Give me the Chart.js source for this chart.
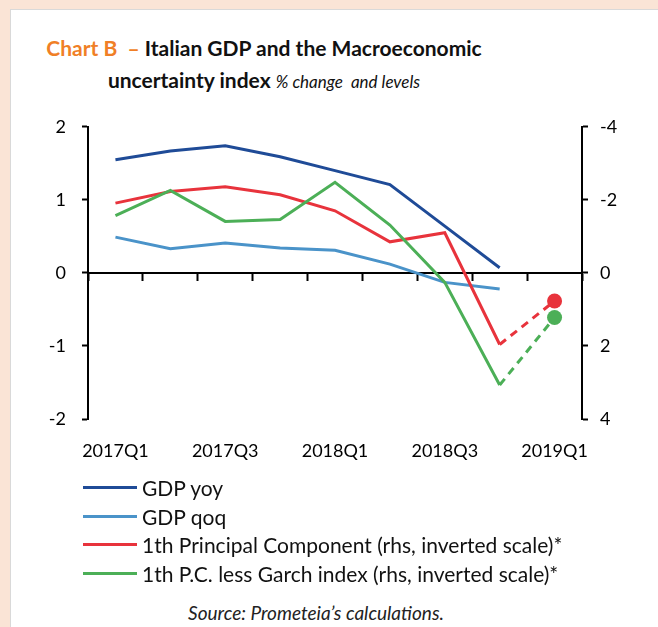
<!DOCTYPE html>
<html>
<head>
<meta charset="utf-8">
<script src="https://cdn.jsdelivr.net/npm/chart.js@4.4.1/dist/chart.umd.min.js"></script>
<style>
  body { margin: 0; width: 658px; height: 627px; overflow: hidden; background: #fae4d6; font-family: Lato, sans-serif; }
  #panel { position: absolute; left: 10px; top: 9px; width: 700px; height: 700px; background: #fff; border: 1px solid #d9d9d9; }
  #title { position: absolute; left: 4px; top: 32px; width: 520px; text-align: center; font-weight: bold; font-size: 21px; line-height: 32px; color: #111; }
  #title .tag { color: #f07f26; }
  #title .sub { font-weight: normal; font-style: italic; font-size: 17px; }
  #chart { position: absolute; left: 0; top: 100px; }
  #legend { position: absolute; left: 83px; top: 473px; }
  .row { height: 28.7px; display: flex; align-items: center; font-size: 21px; color: #111; }
  .swatch { width: 54px; height: 3px; margin-right: 5px; }
  #source { position: absolute; left: 0; top: 601px; width: 632px; text-align: center; font-style: italic; font-size: 19px; color: #222; }
</style>
</head>
<body>
<div id="panel"></div>
<div id="title"><span class="tag">Chart B&nbsp; – </span>Italian GDP and the Macroeconomic<br>uncertainty index <span class="sub">% change&nbsp; and levels</span></div>
<canvas id="chart" width="658" height="380"></canvas>
<div id="legend"></div>
<div id="source">Source: Prometeia’s calculations.</div>
<script>
// Data
const quarters = ['2017Q1', '2017Q2', '2017Q3', '2017Q4', '2018Q1', '2018Q2', '2018Q3', '2018Q4', '2019Q1'];
const gdpYoy = [1.55, 1.67, 1.74, 1.59, 1.40, 1.21, 0.64, 0.07, null];
const gdpQoq = [0.49, 0.33, 0.41, 0.34, 0.31, 0.12, -0.13, -0.22, null];
// rhs, inverted scale
const principalComp = [-1.91, -2.23, -2.36, -2.14, -1.70, -0.85, -1.10, 1.96, 0.77];
const pcLessGarch = [-1.57, -2.26, -1.41, -1.46, -2.48, -1.31, 0.26, 3.07, 1.22];

const seriesNames = ['GDP yoy', 'GDP qoq', '1th Principal Component (rhs, inverted scale)*', '1th P.C. less Garch index (rhs, inverted scale)*'];
const seriesColors = ['#1f4b97', '#4a93c9', '#e8333c', '#4caf57'];

// Last quarter is a forecast: dashed segment plus a dot
const forecastDash = ctx => ctx.p1DataIndex === 8 ? [8, 6] : undefined;
const forecastDot = ctx => ctx.dataIndex === 8 ? 7.5 : 0;

function makeSet(i, data, axis) {
    return {
        label: seriesNames[i],
        data: data,
        yAxisID: axis,
        borderColor: seriesColors[i],
        backgroundColor: seriesColors[i],
        borderWidth: 3,
        tension: 0,
        pointRadius: forecastDot,
        pointBorderWidth: 0,
        segment: { borderDash: forecastDash },
    };
}

// Legend as a single column, like the original
const legendEl = document.getElementById('legend');
seriesNames.forEach((name, i) => {
    const row = document.createElement('div');
    row.className = 'row';
    row.innerHTML = '<span class="swatch" style="background:' + seriesColors[i] + '"></span>' + name;
    legendEl.appendChild(row);
});

const tickFont = { family: 'Lato', size: 18 };

new Chart(document.getElementById('chart'), {
    type: 'line',
    data: {
        labels: quarters,
        datasets: [
            makeSet(3, pcLessGarch, 'y1'),
            makeSet(2, principalComp, 'y1'),
            makeSet(1, gdpQoq, 'y'),
            makeSet(0, gdpYoy, 'y'),
        ],
    },
    options: {
        responsive: false,
        animation: false,
        layout: { padding: { top: 25, left: 0, right: 0, bottom: 0 } },
        plugins: { legend: { display: false }, tooltip: { enabled: false } },
        scales: {
            x: {
                type: 'category',
                position: { y: 0 },
                offset: true,
                border: { color: '#000', width: 2 },
                grid: { offset: true, drawOnChartArea: false, drawTicks: true, tickLength: 7, tickColor: '#000', tickWidth: 2 },
                ticks: { display: false },
            },
            x2: {
                type: 'category',
                position: 'bottom',
                offset: true,
                border: { display: false },
                grid: { display: false, drawTicks: false },
                ticks: {
                    color: '#000',
                    font: tickFont,
                    padding: 21,
                    autoSkip: false,
                    maxRotation: 0,
                    callback: (v, i) => i % 2 === 0 ? quarters[i] : '',
                },
                afterFit: s => { s.height = 61; },
            },
            y: {
                position: 'left',
                min: -2,
                max: 2,
                border: { color: '#000', width: 2 },
                grid: { drawOnChartArea: false, tickLength: 6, tickColor: '#000', tickWidth: 2 },
                ticks: { stepSize: 1, color: '#000', font: tickFont, padding: 16 },
                afterFit: s => { s.width = 88; },
            },
            y1: {
                position: 'right',
                reverse: true,
                min: -4,
                max: 4,
                border: { color: '#000', width: 2 },
                grid: { drawOnChartArea: false, tickLength: 6, tickColor: '#000', tickWidth: 2 },
                ticks: { stepSize: 2, color: '#000', font: tickFont, padding: 12 },
                afterFit: s => { s.width = 76; },
            },
        },
    },
});
</script>
</body>
</html>
